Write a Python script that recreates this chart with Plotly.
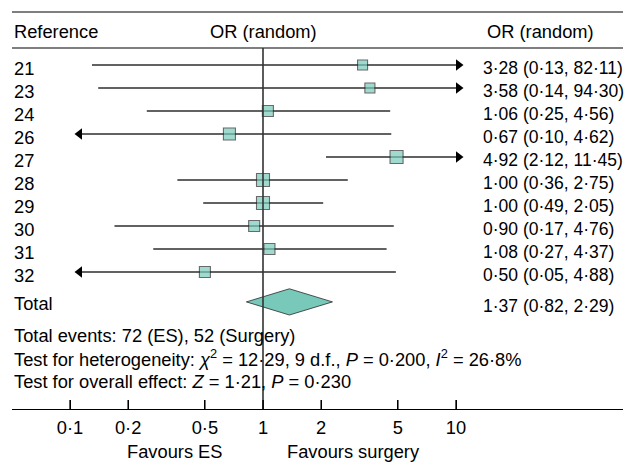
import math
import plotly.graph_objects as go

# ---------------- data ----------------
references = ["21", "23", "24", "26", "27", "28", "29", "30", "31", "32"]
odds_ratio = [3.28, 3.58, 1.06, 0.67, 4.92, 1.00, 1.00, 0.90, 1.08, 0.50]
ci_low = [0.13, 0.14, 0.25, 0.10, 2.12, 0.36, 0.49, 0.17, 0.27, 0.05]
ci_high = [82.11, 94.30, 4.56, 4.62, 11.45, 2.75, 2.05, 4.76, 4.37, 4.88]

total_or = 1.37
total_low = 0.82
total_high = 2.29

events_es = 72
events_surgery = 52
chi2 = 12.29
dfree = 9
p_het = 0.200
i2 = 26.8
z_stat = 1.21
p_overall = 0.230

tick_values = [0.1, 0.2, 0.5, 1, 2, 5, 10]
tick_labels = ["0·1", "0·2", "0·5", "1", "2", "5", "10"]

# ---------------- style ----------------
W, H = 625, 462
FONT = "Liberation Sans, Arial, sans-serif"
FS = 18.3
FS_COL = 17.5
FILL = "#78c9ba"
EDGE = "#2a2a2a"
LINE = "#2e2e2e"
box_px = [10, 10, 11, 12, 13, 13, 13, 11, 11, 11]
CLIP_LO, CLIP_HI = 0.112, 10.3  # display limits where arrows are drawn

def px_x(p):
    return p / W

def px_y(p):
    return 1 - p / H

def dot(v, nd=2):
    return f"{v:.{nd}f}".replace(".", "·")

n = len(references)
rows = list(range(n))
total_row = n + 0.3

fig = go.Figure()

# CI lines (clipped)
lx, ly = [], []
arrow_r_x, arrow_r_y, arrow_l_x, arrow_l_y = [], [], [], []
for i in rows:
    lo = max(ci_low[i], CLIP_LO)
    hi = min(ci_high[i], CLIP_HI)
    lx += [lo, hi, None]
    ly += [i, i, None]
    if ci_high[i] > CLIP_HI:
        arrow_r_x.append(CLIP_HI)
        arrow_r_y.append(i)
    if ci_low[i] < CLIP_LO:
        arrow_l_x.append(CLIP_LO)
        arrow_l_y.append(i)

fig.add_trace(go.Scatter(x=lx, y=ly, mode="lines",
                         line=dict(color=LINE, width=1.4),
                         hoverinfo="skip", showlegend=False))
fig.add_trace(go.Scatter(x=arrow_r_x, y=arrow_r_y, mode="markers",
                         marker=dict(symbol="triangle-right", size=10, color="black"),
                         hoverinfo="skip", showlegend=False))
fig.add_trace(go.Scatter(x=arrow_l_x, y=arrow_l_y, mode="markers",
                         marker=dict(symbol="triangle-left", size=10, color="black"),
                         hoverinfo="skip", showlegend=False))

# Point estimates
fig.add_trace(go.Scatter(x=odds_ratio, y=rows, mode="markers",
                         marker=dict(symbol="square", size=box_px, color=FILL,
                                     line=dict(color=EDGE, width=1.1)),
                         showlegend=False))

# Diamond for total
half_h = 0.57
fig.add_trace(go.Scatter(
    x=[total_low, total_or, total_high, total_or, total_low],
    y=[total_row, total_row - half_h, total_row, total_row + half_h, total_row],
    mode="lines", fill="toself", fillcolor=FILL,
    line=dict(color=EDGE, width=0.8), showlegend=False, hoverinfo="skip"))

annotations = []

def txt(text, x, y, xanchor="left", xref="paper", yref="paper", yshift=0, size=FS):
    annotations.append(dict(text=text, x=x, y=y, xref=xref, yref=yref,
                            xanchor=xanchor, yanchor="middle", showarrow=False,
                            yshift=yshift,
                            font=dict(family=FONT, size=size, color="black")))

# headers
txt("Reference", px_x(12), px_y(31))
txt("OR (random)", math.log10(1), px_y(31), xanchor="center", xref="x")
txt("OR (random)", px_x(540), px_y(31), xanchor="center")

for i in rows:
    txt(references[i], px_x(12), i, yref="y", yshift=-3)
    txt(f"{dot(odds_ratio[i])} ({dot(ci_low[i])}, {dot(ci_high[i])})",
        px_x(481), i, yref="y", yshift=-3, size=FS_COL)

txt("Total", px_x(12), total_row, yref="y", yshift=-2)
txt(f"{dot(total_or)} ({dot(total_low)}, {dot(total_high)})", px_x(481),
    total_row, yref="y", yshift=-4, size=FS_COL)

txt(f"Total events: {events_es} (ES), {events_surgery} (Surgery)", px_x(12), px_y(335))
txt(f"Test for heterogeneity: <i>χ</i><sup>2</sup> = {dot(chi2)}, {dfree} d.f., "
    f"<i>P</i> = {dot(p_het, 3)}, <i>I</i><sup>2</sup> = {dot(i2, 1)}%",
    px_x(12), px_y(358))
txt(f"Test for overall effect: <i>Z</i> = {dot(z_stat)}, <i>P</i> = {dot(p_overall, 3)}",
    px_x(12), px_y(381))

txt("Favours ES", px_x(175), px_y(451), xanchor="center")
txt("Favours surgery", px_x(353), px_y(451), xanchor="center")

AXIS_PX = 409
TICK_LEN = 9
shapes = [
    dict(type="line", xref="paper", yref="paper", x0=px_x(12), x1=px_x(623),
         y0=px_y(12), y1=px_y(12), line=dict(color="black", width=1.2)),
    dict(type="line", xref="paper", yref="paper", x0=px_x(12), x1=px_x(623),
         y0=px_y(48), y1=px_y(48), line=dict(color="#555555", width=1.5)),
    dict(type="line", xref="x", yref="paper", x0=1, x1=1,
         y0=px_y(AXIS_PX), y1=px_y(48), line=dict(color="#333333", width=1.6)),
]
for tv in tick_values:
    shapes.append(dict(type="line", xref="x", yref="paper", x0=tv, x1=tv,
                       y0=px_y(AXIS_PX), y1=px_y(AXIS_PX - TICK_LEN),
                       line=dict(color="black", width=1.3)))

# axis mapping: value 1 at px 263, 193 px per decade
x0_px, x1_px = 12, 623
one_px, per_dec = 263, 193
xr = [(x0_px - one_px) / per_dec, (x1_px - one_px) / per_dec]
y_top_px, row_px = 65, 23
yr = [(AXIS_PX - y_top_px) / row_px, (0 - y_top_px) / row_px]

fig.update_layout(
    width=W, height=H, margin=dict(l=0, r=0, t=0, b=0),
    paper_bgcolor="white", plot_bgcolor="white",
    font=dict(family=FONT, size=FS, color="black"),
    xaxis=dict(type="log", range=xr, domain=[px_x(x0_px), px_x(x1_px)],
               anchor="y",
               showgrid=False, zeroline=False, showline=True,
               linecolor="black", linewidth=1,
               ticks="inside", ticklen=TICK_LEN, tickwidth=1.2, tickcolor="black",
               tickvals=tick_values, ticktext=tick_labels,
               tickfont=dict(family=FONT, size=FS, color="black"),
               ticklabelstandoff=2),
    yaxis=dict(range=yr, domain=[px_y(AXIS_PX), 1], visible=False),
    annotations=annotations, shapes=shapes,
)

fig.write_html("out.html")
